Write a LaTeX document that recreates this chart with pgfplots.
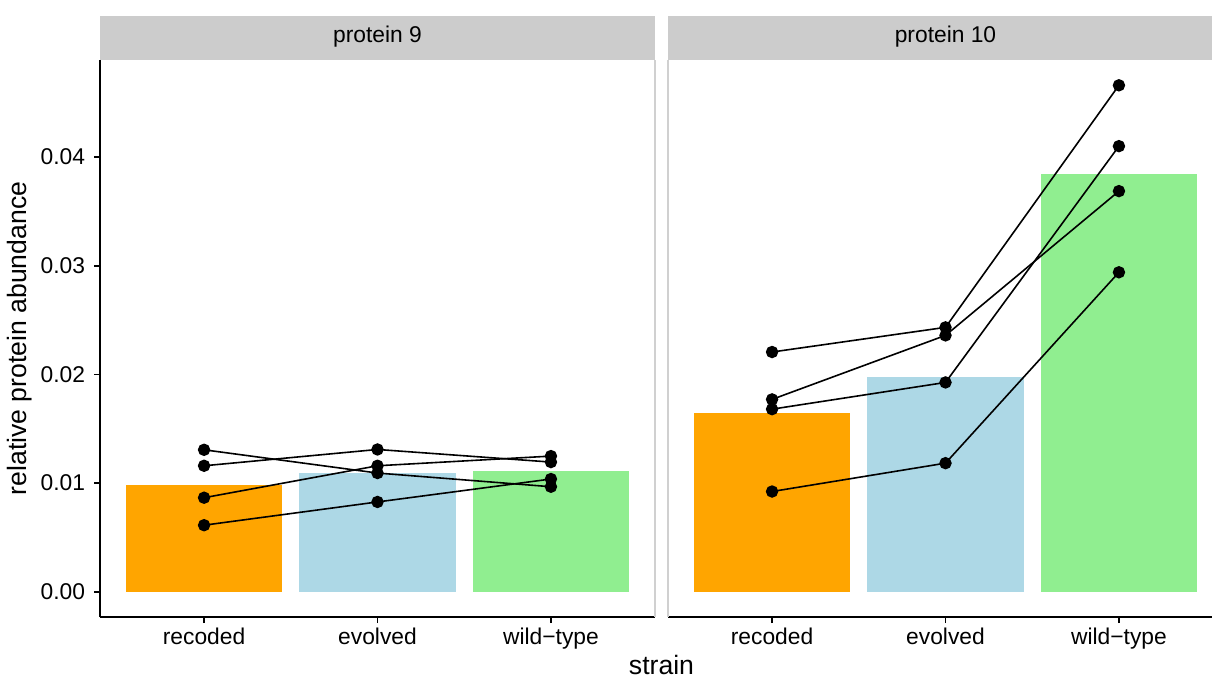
\documentclass[border=0pt]{standalone}
\usepackage{pgfplots}
\pgfplotsset{compat=1.18}
\usepackage{fontspec}
\setmainfont{Liberation Sans}

\definecolor{barorange}{HTML}{FFA500}
\definecolor{barblue}{HTML}{ADD8E6}
\definecolor{bargreen}{HTML}{90EE90}
\definecolor{stripgrey}{HTML}{CCCCCC}
\definecolor{bordergrey}{HTML}{D0D0D0}

\newcommand{\tickfont}{\fontsize{11.4bp}{13bp}\selectfont}
\newcommand{\titlefont}{\fontsize{13.3bp}{15bp}\selectfont}

\pgfplotsset{
  panel/.style={
    scale only axis, width=277.5bp, height=278.5bp,
    anchor=south west,
    xmin=0.4, xmax=3.6, ymin=-0.00233, ymax=0.04894,
    xtick={1,2,3}, xticklabels={recoded,evolved,wild−type},
    tick align=outside, major tick length=3bp,
    tick style={black, line width=0.9bp},
    axis x line*=bottom,
    axis line style={black, line width=0.9bp, -},
    ticklabel style={font=\tickfont, text=black},
    xticklabel style={yshift=1bp},
    clip=false,
  },
  bar/.style={ybar, bar width=0.9, bar shift=0pt, draw=none, fill=#1},
  pair/.style={black, line width=0.8bp, mark=*, mark size=2.7bp,
    mark options={solid, fill=black, draw=black}},
}

\begin{document}
\begin{tikzpicture}

% protein 9
\begin{axis}[panel, name=pL, at={(50bp,31.5bp)},
    axis y line*=left,
    ytick={0,0.01,0.02,0.03,0.04},
    yticklabels={0.00,0.01,0.02,0.03,0.04},
    yticklabel style={xshift=-1bp}]
  \draw[bordergrey, line width=0.6bp] (rel axis cs:1,0) -- (rel axis cs:1,1);
  \addplot[bar=barorange] coordinates {(1,0.009855)};
  \addplot[bar=barblue]   coordinates {(2,0.010965)};
  \addplot[bar=bargreen]  coordinates {(3,0.011110)};
  \addplot[pair] coordinates {(1,0.01306) (2,0.01092) (3,0.00966)};
  \addplot[pair] coordinates {(1,0.01159) (2,0.01309) (3,0.01193)};
  \addplot[pair] coordinates {(1,0.00865) (2,0.01159) (3,0.01248)};
  \addplot[pair] coordinates {(1,0.00612) (2,0.00826) (3,0.01037)};
\end{axis}

% protein 10
\begin{axis}[panel, name=pR, at={(334bp,31.5bp)},
    axis y line=none, ytick=\empty]
  \draw[bordergrey, line width=0.6bp] (rel axis cs:0,0) -- (rel axis cs:0,1);
  \addplot[bar=barorange] coordinates {(1,0.016445)};
  \addplot[bar=barblue]   coordinates {(2,0.019753)};
  \addplot[bar=bargreen]  coordinates {(3,0.038473)};
  \addplot[pair] coordinates {(1,0.02206) (2,0.02433) (3,0.04661)};
  \addplot[pair] coordinates {(1,0.01770) (2,0.02359) (3,0.03687)};
  \addplot[pair] coordinates {(1,0.01680) (2,0.01926) (3,0.04101)};
  \addplot[pair] coordinates {(1,0.00922) (2,0.01183) (3,0.02940)};
\end{axis}

% facet strips
\fill[stripgrey] (pL.north west) rectangle ([yshift=22bp]pL.north east);
\fill[stripgrey] (pR.north west) rectangle ([yshift=22bp]pR.north east);
\node[font=\tickfont, text=black] at ([yshift=11.5bp]pL.north) {protein 9};
\node[font=\tickfont, text=black] at ([yshift=11.5bp]pR.north) {protein 10};

% axis titles
\node[font=\titlefont] at (330.75bp,7.5bp) {strain};
\node[font=\titlefont, rotate=90] at (10bp,170.75bp) {relative protein abundance};

\pgfresetboundingbox
\useasboundingbox (0,0) rectangle (606bp,340bp);
\end{tikzpicture}
\end{document}
